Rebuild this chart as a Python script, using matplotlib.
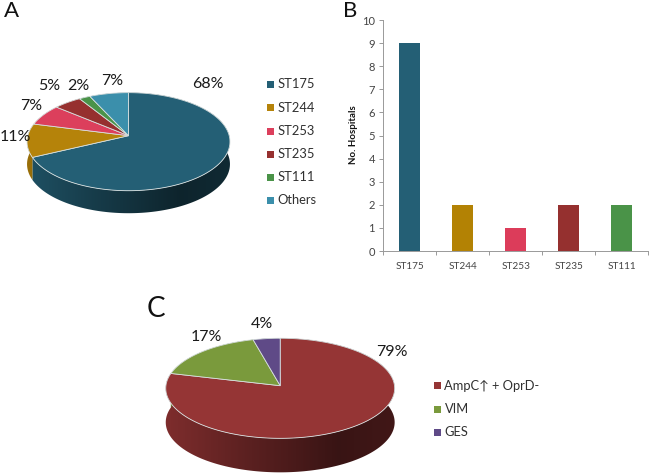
import numpy as np
import matplotlib
matplotlib.use("Agg")
import matplotlib.pyplot as plt
from matplotlib.patches import Polygon

plt.rcParams['font.family'] = ['Lato', 'DejaVu Sans']

# panel A
a_labels = ['ST175', 'ST244', 'ST253', 'ST235', 'ST111', 'Others']
a_values = [68, 11, 7, 5, 2, 7]
a_colors = ['#245f75', '#b5830a', '#dc3f5c', '#96302f', '#4a9348', '#3b8fab']

# panel B
b_labels = ['ST175', 'ST244', 'ST253', 'ST235', 'ST111']
b_values = [9, 2, 1, 2, 2]
b_colors = ['#245f75', '#b38204', '#dc3c5a', '#95302f', '#4a9348']

# panel C
c_labels = ['AmpC↑ + OprD-', 'VIM', 'GES']
c_values = [79, 17, 4]
c_colors = ['#953535', '#7a9a3c', '#5f4a87']


def rim_point(frac, geom):
    # tilted circle, far side squeezed a bit like the office 3d pie
    cx, cy, a, b, k = geom
    ang = 2 * np.pi * np.asarray(frac)
    u, v = np.sin(ang), np.cos(ang)
    w = 1 + k * v
    return cx + a * u / w, cy - b * v / w


def side_gradient(color, n=256):
    t = np.linspace(0, 1, n)
    f = np.interp(t, [0, 0.35, 0.75, 1], [0.85, 0.62, 0.38, 0.44])
    return np.outer(f, matplotlib.colors.to_rgb(color)).reshape(1, n, 3)


def pie_3d(ax, values, colors, geom, depth):
    total = sum(values)
    edges = np.cumsum([0] + list(values)) / total
    x0, x1 = geom[0] - geom[2] - 2, geom[0] + geom[2] + 2
    top = geom[1] - geom[3] - 5
    bottom = geom[1] + geom[3] * 1.2 + depth
    # side wall first, the top covers the back half
    for i, col in enumerate(colors):
        fr = np.linspace(edges[i], edges[i + 1], 200)
        xs, ys = rim_point(fr, geom)
        wall = Polygon(np.c_[np.r_[xs, xs[::-1]], np.r_[ys, ys[::-1] + depth]],
                       closed=True, transform=ax.transData, fc='none', ec='none')
        ax.add_patch(wall)
        im = ax.imshow(side_gradient(col), extent=(x0, x1, bottom, top),
                       aspect='auto', zorder=1, interpolation='bilinear')
        im.set_clip_path(wall)
    for i, col in enumerate(colors):
        fr = np.linspace(edges[i], edges[i + 1], 200)
        xs, ys = rim_point(fr, geom)
        ax.fill(np.r_[geom[0], xs], np.r_[geom[1], ys], facecolor=col,
                edgecolor='#d8e0e0', lw=0.6, zorder=2)
    ax.set_xlim(0, 650)
    ax.set_ylim(476, 0)


def legend_rows(ax, labels, colors, x, ys, size):
    for lab, col, y in zip(labels, colors, ys):
        ax.fill([x, x + 7, x + 7, x], [y - 3.5, y - 3.5, y + 3.5, y + 3.5],
                color=col, lw=0, zorder=3)
        ax.text(x + 10.5, y, lab, fontsize=size, color='#303030', va='center', ha='left')


fig = plt.figure(figsize=(6.5, 4.76), dpi=100)
bg = fig.add_axes([0, 0, 1, 1])
bg.set_xlim(0, 650)
bg.set_ylim(476, 0)
bg.axis('off')

# A
pie_3d(bg, a_values, a_colors, (128.5, 135.7, 100.7, 48.3, 0.122), 22.5)
a_pos = [(207.7, 84), (15, 137), (31, 105.7), (49.3, 85.7), (78.7, 85.7), (112, 81)]
for val, (x, y) in zip(a_values, a_pos):
    bg.text(x, y, f'{val}%', fontsize=11.5, color='#1a1a1a', ha='center', va='center', zorder=4)
legend_rows(bg, a_labels, a_colors, 267, [84, 107.5, 131, 154, 177, 200], 9.3)

# C
pie_3d(bg, c_values, c_colors, (280.2, 385.7, 114.3, 49.9, 0.052), 34)
c_pos = [(391.7, 351.7), (206, 337.3), (262.3, 324.3)]
for val, (x, y) in zip(c_values, c_pos):
    bg.text(x, y, f'{val}%', fontsize=11.5, color='#1a1a1a', ha='center', va='center', zorder=4)
legend_rows(bg, c_labels, c_colors, 434, [385.7, 409, 432], 9.3)

# panel letters
bg.text(4, 17, 'A', fontsize=16, color='#111111', ha='left', va='baseline')
bg.text(343, 17, 'B', fontsize=16, color='#111111', ha='left', va='baseline')
bg.text(147, 317, 'C', fontsize=20, color='#111111', ha='left', va='baseline')

# B
ax = fig.add_axes([383.3 / 650, (476 - 251) / 476, (648 - 383.3) / 650, 231 / 476])
ax.patch.set_alpha(0)
ax.bar(range(len(b_values)), b_values, width=0.4, color=b_colors)
ax.set_xlim(-0.5, len(b_values) - 0.5)
ax.set_ylim(0, 10)
ax.set_yticks(range(11))
ax.set_xticks(range(len(b_labels)))
ax.set_xticklabels(b_labels)
ax.set_xticks(np.arange(-0.5, len(b_labels)), minor=True)
ax.tick_params(axis='x', which='major', length=0, pad=8, labelsize=7.2, labelcolor='#444444')
ax.tick_params(axis='x', which='minor', length=3, color='#999999', width=0.7)
ax.tick_params(axis='y', length=3, color='#999999', width=0.7, pad=3, labelsize=8, labelcolor='#444444')
for side in ['top', 'right']:
    ax.spines[side].set_visible(False)
for side in ['left', 'bottom']:
    ax.spines[side].set_color('#999999')
    ax.spines[side].set_linewidth(0.7)
bg.text(353, 135, 'No. Hospitals', fontsize=7, fontweight='bold', color='#111111',
        rotation=90, ha='center', va='center')

fig.savefig('out.png', dpi=100)
